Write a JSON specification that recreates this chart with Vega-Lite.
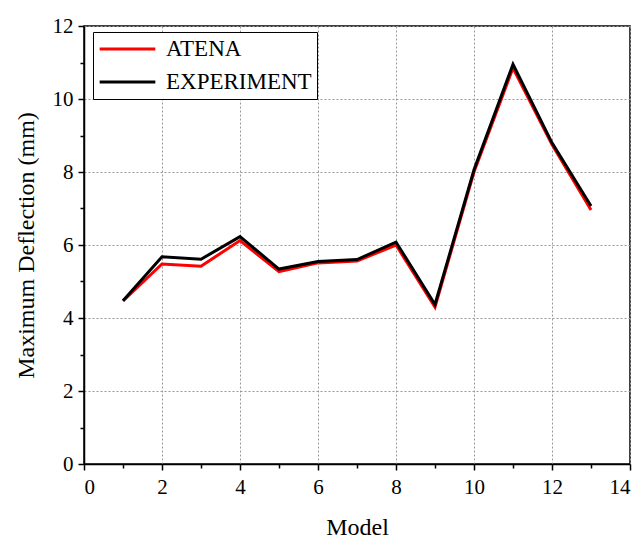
{
  "$schema": "https://vega.github.io/schema/vega-lite/v6.json",
  "autosize": "none",
  "width": 546,
  "height": 438,
  "padding": {"left": 84, "top": 26, "right": 12, "bottom": 81},
  "background": "white",
  "config": {
    "view": {"stroke": "black", "strokeWidth": 1.5},
    "style": {
      "guide-label": {"font": "'Liberation Serif', 'Times New Roman', serif"},
      "guide-title": {"font": "'Liberation Serif', 'Times New Roman', serif"}
    },
    "axis": {
      "labelFont": "'Liberation Serif', 'Times New Roman', serif",
      "titleFont": "'Liberation Serif', 'Times New Roman', serif",
      "labelFontSize": 21,
      "titleFontSize": 24,
      "titleFontWeight": "normal",
      "labelColor": "black",
      "titleColor": "black",
      "domainColor": "black",
      "domainWidth": 1.5,
      "tickColor": "black",
      "tickWidth": 1.5,
      "tickSize": 6,
      "gridColor": "#999999",
      "gridDash": [2, 2],
      "gridWidth": 1
    }
  },
  "data": {
    "values": [
      {"model": 1, "series": "ATENA", "deflection": 4.47},
      {"model": 2, "series": "ATENA", "deflection": 5.48},
      {"model": 3, "series": "ATENA", "deflection": 5.42},
      {"model": 4, "series": "ATENA", "deflection": 6.12},
      {"model": 5, "series": "ATENA", "deflection": 5.27},
      {"model": 6, "series": "ATENA", "deflection": 5.51},
      {"model": 7, "series": "ATENA", "deflection": 5.56},
      {"model": 8, "series": "ATENA", "deflection": 6.0},
      {"model": 9, "series": "ATENA", "deflection": 4.3},
      {"model": 10, "series": "ATENA", "deflection": 8.0},
      {"model": 11, "series": "ATENA", "deflection": 10.85},
      {"model": 12, "series": "ATENA", "deflection": 8.75},
      {"model": 13, "series": "ATENA", "deflection": 6.96},
      {"model": 1, "series": "EXPERIMENT", "deflection": 4.47},
      {"model": 2, "series": "EXPERIMENT", "deflection": 5.68},
      {"model": 3, "series": "EXPERIMENT", "deflection": 5.61},
      {"model": 4, "series": "EXPERIMENT", "deflection": 6.23},
      {"model": 5, "series": "EXPERIMENT", "deflection": 5.34},
      {"model": 6, "series": "EXPERIMENT", "deflection": 5.55},
      {"model": 7, "series": "EXPERIMENT", "deflection": 5.6},
      {"model": 8, "series": "EXPERIMENT", "deflection": 6.08},
      {"model": 9, "series": "EXPERIMENT", "deflection": 4.37},
      {"model": 10, "series": "EXPERIMENT", "deflection": 8.06},
      {"model": 11, "series": "EXPERIMENT", "deflection": 10.95},
      {"model": 12, "series": "EXPERIMENT", "deflection": 8.8},
      {"model": 13, "series": "EXPERIMENT", "deflection": 7.07}
    ]
  },
  "layer": [
    {
      "mark": {"type": "line", "strokeWidth": 3},
      "encoding": {
        "x": {
          "field": "model", "type": "quantitative",
          "scale": {"domain": [0, 14], "nice": false, "zero": false},
          "axis": {"values": [0, 2, 4, 6, 8, 10, 12, 14], "title": "Model", "titlePadding": 18, "labelPadding": 6, "grid": true,
                   "labelFont": "'Liberation Serif', 'Times New Roman', serif", "titleFont": "'Liberation Serif', 'Times New Roman', serif"}
        },
        "y": {
          "field": "deflection", "type": "quantitative",
          "scale": {"domain": [0, 12], "nice": false},
          "axis": {"values": [0, 2, 4, 6, 8, 10, 12], "title": "Maximum Deflection (mm)", "titlePadding": 14, "labelPadding": 5, "grid": true,
                   "labelFont": "'Liberation Serif', 'Times New Roman', serif", "titleFont": "'Liberation Serif', 'Times New Roman', serif"}
        },
        "color": {
          "field": "series", "type": "nominal",
          "scale": {"domain": ["ATENA", "EXPERIMENT"], "range": ["#ff0000", "#000000"]},
          "legend": {
            "title": null,
            "orient": "none",
            "legendX": 9,
            "legendY": 6,
            "strokeColor": "black",
            "fillColor": "white",
            "padding": 5,
            "symbolType": "stroke",
            "symbolSize": 3100,
            "symbolStrokeWidth": 3,
            "clipHeight": 24,
            "labelFont": "Times New Roman, serif",
            "labelFontSize": 23,
            "labelColor": "black",
            "labelOffset": 9,
            "rowPadding": 9
          }
        },
        "order": {"field": "series", "type": "nominal"}
      }
    },
    {
      "mark": {"type": "tick", "opacity": 0},
      "encoding": {
        "x": {"field": "model", "type": "quantitative", "axis": {"orient": "bottom", "values": [1, 3, 5, 7, 9, 11, 13], "labels": false, "title": null, "grid": false, "domain": false, "tickSize": 4}},
        "y": {"field": "deflection", "type": "quantitative", "axis": {"orient": "left", "values": [1, 3, 5, 7, 9, 11], "labels": false, "title": null, "grid": false, "domain": false, "tickSize": 4}}
      }
    }
  ],
  "resolve": {"axis": {"x": "independent", "y": "independent"}}
}
